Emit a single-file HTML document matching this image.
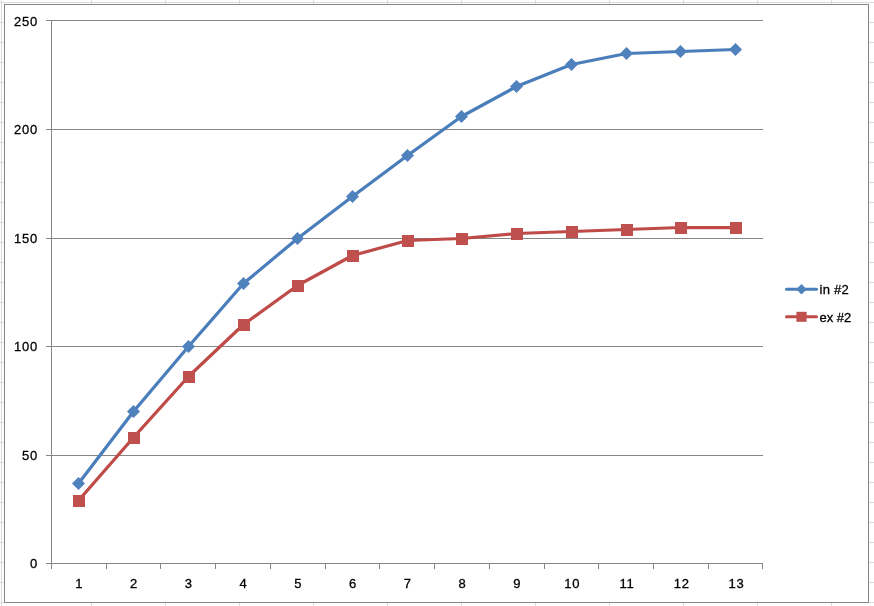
<!DOCTYPE html>
<html><head><meta charset="utf-8"><title>chart</title>
<style>
html,body{margin:0;padding:0;background:#fff;}
body{width:874px;height:606px;overflow:hidden;position:relative;}
svg{position:absolute;left:0;top:0;display:block;}
text{font-family:"Liberation Sans",sans-serif;font-size:13px;fill:#000;stroke:#000;stroke-width:0.3px;}
</style></head><body>
<svg width="874" height="606" viewBox="0 0 874 606">
<rect x="0" y="0" width="874" height="606" fill="#ffffff"/>
<g stroke="#dadada" stroke-width="1" shape-rendering="crispEdges"><line x1="0" y1="2.5" x2="874" y2="2.5"/><line x1="0" y1="22.5" x2="874" y2="22.5"/><line x1="0" y1="42.5" x2="874" y2="42.5"/><line x1="0" y1="62.5" x2="874" y2="62.5"/><line x1="0" y1="82.5" x2="874" y2="82.5"/><line x1="0" y1="102.5" x2="874" y2="102.5"/><line x1="0" y1="122.5" x2="874" y2="122.5"/><line x1="0" y1="142.5" x2="874" y2="142.5"/><line x1="0" y1="162.5" x2="874" y2="162.5"/><line x1="0" y1="182.5" x2="874" y2="182.5"/><line x1="0" y1="202.5" x2="874" y2="202.5"/><line x1="0" y1="222.5" x2="874" y2="222.5"/><line x1="0" y1="242.5" x2="874" y2="242.5"/><line x1="0" y1="262.5" x2="874" y2="262.5"/><line x1="0" y1="282.5" x2="874" y2="282.5"/><line x1="0" y1="302.5" x2="874" y2="302.5"/><line x1="0" y1="322.5" x2="874" y2="322.5"/><line x1="0" y1="342.5" x2="874" y2="342.5"/><line x1="0" y1="362.5" x2="874" y2="362.5"/><line x1="0" y1="382.5" x2="874" y2="382.5"/><line x1="0" y1="402.5" x2="874" y2="402.5"/><line x1="0" y1="422.5" x2="874" y2="422.5"/><line x1="0" y1="442.5" x2="874" y2="442.5"/><line x1="0" y1="462.5" x2="874" y2="462.5"/><line x1="0" y1="482.5" x2="874" y2="482.5"/><line x1="0" y1="502.5" x2="874" y2="502.5"/><line x1="0" y1="522.5" x2="874" y2="522.5"/><line x1="0" y1="542.5" x2="874" y2="542.5"/><line x1="0" y1="562.5" x2="874" y2="562.5"/><line x1="0" y1="582.5" x2="874" y2="582.5"/><line x1="0" y1="602.5" x2="874" y2="602.5"/><line x1="1.5" y1="0" x2="1.5" y2="606"/><line x1="91.5" y1="0" x2="91.5" y2="606"/><line x1="165.5" y1="0" x2="165.5" y2="606"/><line x1="239.5" y1="0" x2="239.5" y2="606"/><line x1="313.5" y1="0" x2="313.5" y2="606"/><line x1="387.5" y1="0" x2="387.5" y2="606"/><line x1="461.5" y1="0" x2="461.5" y2="606"/><line x1="535.5" y1="0" x2="535.5" y2="606"/><line x1="609.5" y1="0" x2="609.5" y2="606"/><line x1="683.5" y1="0" x2="683.5" y2="606"/><line x1="757.5" y1="0" x2="757.5" y2="606"/><line x1="831.5" y1="0" x2="831.5" y2="606"/></g>
<rect x="4.5" y="4.5" width="864" height="598" fill="#ffffff" stroke="#868686" stroke-width="1"/>
<g stroke="#868686" stroke-width="1"><line x1="46" y1="563.5" x2="763" y2="563.5"/><line x1="46" y1="455.5" x2="763" y2="455.5"/><line x1="46" y1="346.5" x2="763" y2="346.5"/><line x1="46" y1="238.5" x2="763" y2="238.5"/><line x1="46" y1="129.5" x2="763" y2="129.5"/><line x1="46" y1="20.5" x2="763" y2="20.5"/><line x1="51.5" y1="20" x2="51.5" y2="564"/><line x1="51.5" y1="563.5" x2="51.5" y2="569"/><line x1="106.5" y1="563.5" x2="106.5" y2="569"/><line x1="160.5" y1="563.5" x2="160.5" y2="569"/><line x1="215.5" y1="563.5" x2="215.5" y2="569"/><line x1="270.5" y1="563.5" x2="270.5" y2="569"/><line x1="325.5" y1="563.5" x2="325.5" y2="569"/><line x1="379.5" y1="563.5" x2="379.5" y2="569"/><line x1="434.5" y1="563.5" x2="434.5" y2="569"/><line x1="489.5" y1="563.5" x2="489.5" y2="569"/><line x1="544.5" y1="563.5" x2="544.5" y2="569"/><line x1="598.5" y1="563.5" x2="598.5" y2="569"/><line x1="653.5" y1="563.5" x2="653.5" y2="569"/><line x1="708.5" y1="563.5" x2="708.5" y2="569"/><line x1="762.5" y1="563.5" x2="762.5" y2="569"/></g>
<g style="letter-spacing:0.8px"><text x="38" y="567.6" text-anchor="end">0</text><text x="38" y="459.6" text-anchor="end">50</text><text x="38" y="350.6" text-anchor="end">100</text><text x="38" y="242.6" text-anchor="end">150</text><text x="38" y="133.6" text-anchor="end">200</text><text x="38" y="25.6" text-anchor="end">250</text><text x="79.3" y="587.8" text-anchor="middle">1</text><text x="134.1" y="587.8" text-anchor="middle">2</text><text x="188.8" y="587.8" text-anchor="middle">3</text><text x="243.5" y="587.8" text-anchor="middle">4</text><text x="298.3" y="587.8" text-anchor="middle">5</text><text x="353.0" y="587.8" text-anchor="middle">6</text><text x="407.7" y="587.8" text-anchor="middle">7</text><text x="462.4" y="587.8" text-anchor="middle">8</text><text x="517.2" y="587.8" text-anchor="middle">9</text><text x="572.3" y="587.8" text-anchor="middle">10</text><text x="627.0" y="587.8" text-anchor="middle">11</text><text x="681.8" y="587.8" text-anchor="middle">12</text><text x="736.5" y="587.8" text-anchor="middle">13</text></g>
<polyline points="78.5,483.5 133.5,411.5 188.5,346.5 243.5,283.5 297.5,238.5 352.5,196.5 407.5,155.5 461.5,116.5 516.5,86.5 571.5,64.5 626.5,53.5 680.5,51.5 735.5,49.5" fill="none" stroke="#4a7ebb" stroke-width="3.25" stroke-linejoin="round" stroke-linecap="round"/>
<path d="M72.0 483.5L78.5 477.0L85.0 483.5L78.5 490.0Z" fill="#4f81bd"/><path d="M127.0 411.5L133.5 405.0L140.0 411.5L133.5 418.0Z" fill="#4f81bd"/><path d="M182.0 346.5L188.5 340.0L195.0 346.5L188.5 353.0Z" fill="#4f81bd"/><path d="M237.0 283.5L243.5 277.0L250.0 283.5L243.5 290.0Z" fill="#4f81bd"/><path d="M291.0 238.5L297.5 232.0L304.0 238.5L297.5 245.0Z" fill="#4f81bd"/><path d="M346.0 196.5L352.5 190.0L359.0 196.5L352.5 203.0Z" fill="#4f81bd"/><path d="M401.0 155.5L407.5 149.0L414.0 155.5L407.5 162.0Z" fill="#4f81bd"/><path d="M455.0 116.5L461.5 110.0L468.0 116.5L461.5 123.0Z" fill="#4f81bd"/><path d="M510.0 86.5L516.5 80.0L523.0 86.5L516.5 93.0Z" fill="#4f81bd"/><path d="M565.0 64.5L571.5 58.0L578.0 64.5L571.5 71.0Z" fill="#4f81bd"/><path d="M620.0 53.5L626.5 47.0L633.0 53.5L626.5 60.0Z" fill="#4f81bd"/><path d="M674.0 51.5L680.5 45.0L687.0 51.5L680.5 58.0Z" fill="#4f81bd"/><path d="M729.0 49.5L735.5 43.0L742.0 49.5L735.5 56.0Z" fill="#4f81bd"/>
<polyline points="78.5,500.5 133.5,437.5 188.5,376.5 243.5,324.5 297.5,285.5 352.5,255.5 407.5,240.5 461.5,238.5 516.5,233.5 571.5,231.5 626.5,229.5 680.5,227.5 735.5,227.5" fill="none" stroke="#be4b48" stroke-width="3.25" stroke-linejoin="round" stroke-linecap="round"/>
<rect x="73.0" y="495.0" width="12" height="12" fill="#c0504d"/><rect x="128.0" y="432.0" width="12" height="12" fill="#c0504d"/><rect x="183.0" y="371.0" width="12" height="12" fill="#c0504d"/><rect x="238.0" y="319.0" width="12" height="12" fill="#c0504d"/><rect x="292.0" y="280.0" width="12" height="12" fill="#c0504d"/><rect x="347.0" y="250.0" width="12" height="12" fill="#c0504d"/><rect x="402.0" y="235.0" width="12" height="12" fill="#c0504d"/><rect x="456.0" y="233.0" width="12" height="12" fill="#c0504d"/><rect x="511.0" y="228.0" width="12" height="12" fill="#c0504d"/><rect x="566.0" y="226.0" width="12" height="12" fill="#c0504d"/><rect x="621.0" y="224.0" width="12" height="12" fill="#c0504d"/><rect x="675.0" y="222.0" width="12" height="12" fill="#c0504d"/><rect x="730.0" y="222.0" width="12" height="12" fill="#c0504d"/>
<line x1="786.5" y1="289.2" x2="816.5" y2="289.2" stroke="#4a7ebb" stroke-width="3" stroke-linecap="round"/>
<path d="M796.2 289.2L801.5 283.9L806.8 289.2L801.5 294.5Z" fill="#4f81bd"/>
<text x="819.5" y="293.5" style="letter-spacing:0.25px">in #2</text>
<line x1="786.5" y1="316.8" x2="816.5" y2="316.8" stroke="#be4b48" stroke-width="3" stroke-linecap="round"/>
<rect x="796.4" y="311.8" width="10.2" height="10" fill="#c0504d"/>
<text x="819.5" y="322.1">ex #2</text>
</svg>
</body></html>
